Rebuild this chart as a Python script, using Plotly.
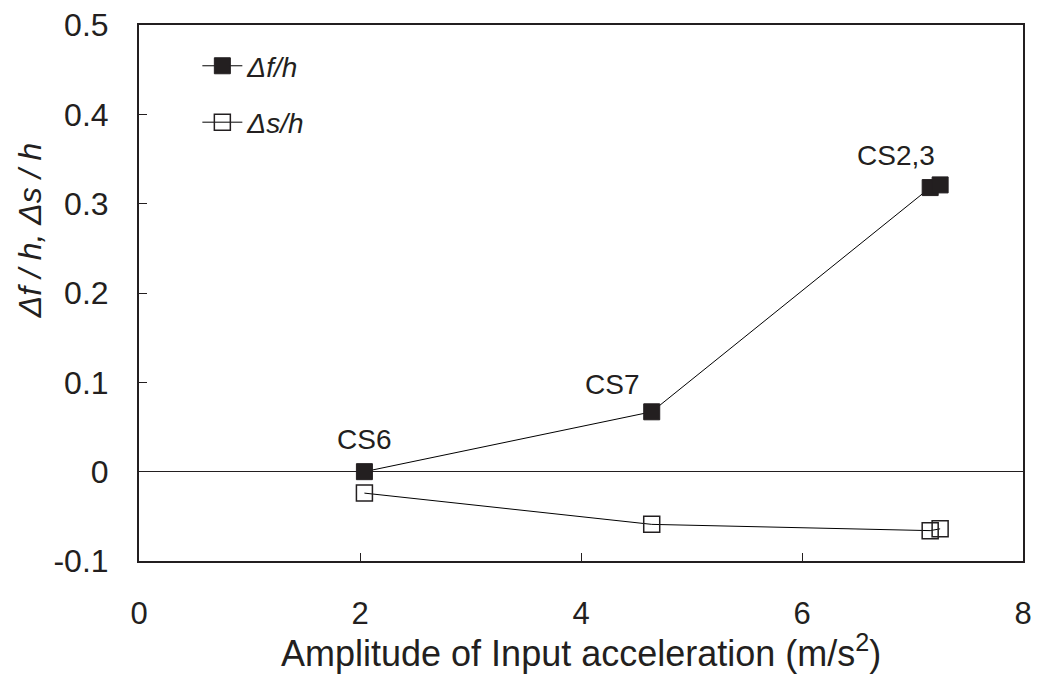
import plotly.graph_objects as go

x_vals = [2.04, 4.64, 7.16, 7.25]
df_h = [0.0, 0.067, 0.318, 0.321]
ds_h = [-0.024, -0.059, -0.066, -0.064]
labels = ["CS6", "CS7", "CS2,3"]
label_x = [2.04, 4.28, 6.85]
label_y = [0.0355, 0.098, 0.354]

FONT = "Liberation Sans, Arial, sans-serif"
INK = "#231f20"

fig = go.Figure()
fig.add_trace(go.Scatter(
    x=x_vals, y=df_h, mode="lines+markers", name="<i>Δf/h</i>",
    line=dict(color="black", width=1),
    marker=dict(symbol="square", size=16, color=INK, line=dict(color=INK, width=1)),
    legendgroup="a"))
fig.add_trace(go.Scatter(
    x=x_vals, y=ds_h, mode="lines+markers", name="<i>Δs/h</i>",
    line=dict(color="black", width=1),
    marker=dict(symbol="square-open", size=16, color=INK, line=dict(width=1.5)),
    legendgroup="b"))

for t, lx, ly in zip(labels, label_x, label_y):
    fig.add_annotation(x=lx, y=ly, text=t, showarrow=False,
                       font=dict(family=FONT, size=28, color=INK))

fig.add_annotation(xref="paper", yref="paper", x=-0.123, y=0.6175,
                   xanchor="center", yanchor="middle", textangle=-90,
                   text="<i>Δf / h, Δs / h</i>", showarrow=False,
                   font=dict(family=FONT, size=32, color=INK))

fig.add_annotation(xref="paper", yref="paper", x=0.5, y=-0.2146,
                   xanchor="center", yanchor="bottom",
                   text="Amplitude of Input acceleration (m/s<sup>2</sup>)", showarrow=False,
                   font=dict(family=FONT, size=36, color=INK))

fig.update_layout(
    width=1038, height=678,
    margin=dict(l=139, r=15, t=25, b=117),
    paper_bgcolor="white", plot_bgcolor="white",
    font=dict(family=FONT, color=INK),
    showlegend=True,
    legend=dict(x=0.066, y=0.97, xanchor="left", yanchor="top",
                font=dict(size=28, color=INK), tracegroupgap=17,
                itemwidth=40, bgcolor="rgba(0,0,0,0)"),
)
fig.update_xaxes(range=[0, 8], tickvals=[0, 2, 4, 6, 8], ticks="inside", ticklen=8,
                 tickcolor=INK, showline=True, linecolor=INK, linewidth=2,
                 mirror=True, showgrid=False, zeroline=False, automargin=False,
                 tickfont=dict(size=31), ticklabelstandoff=24)
fig.update_yaxes(range=[-0.1, 0.5], tickvals=[-0.1, 0, 0.1, 0.2, 0.3, 0.4, 0.5],
                 ticktext=["-0.1", "0", "0.1", "0.2", "0.3", "0.4", "0.5"],
                 ticks="inside", ticklen=8, tickcolor=INK, automargin=False,
                 showline=True, linecolor=INK, linewidth=2, mirror=True,
                 showgrid=False, zeroline=True, zerolinecolor=INK, zerolinewidth=1,
                 tickfont=dict(size=32), ticklabelstandoff=22)

fig.write_html("out.html")
